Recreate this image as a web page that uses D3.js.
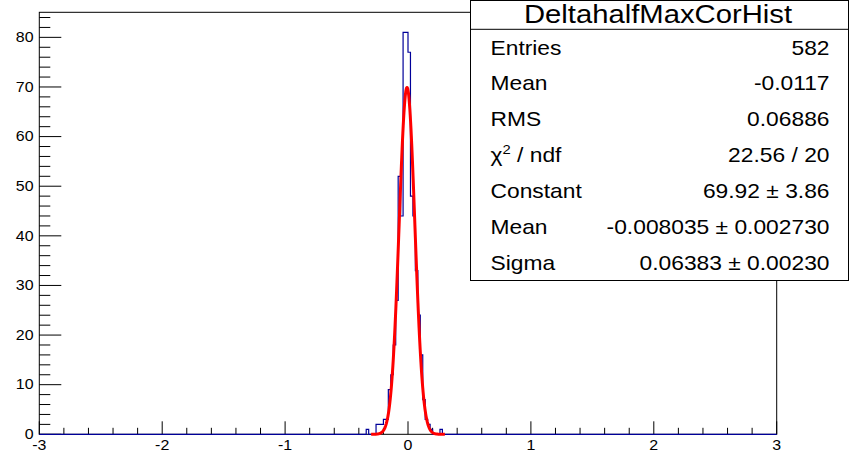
<!DOCTYPE html>
<html><head><meta charset="utf-8">
<script src="https://cdn.jsdelivr.net/npm/d3@7"></script>
<style>body{margin:0;background:#fff}svg{display:block}text{font-family:"Liberation Sans",Arial,Helvetica,sans-serif;fill:#000}</style>
</head><body>
<svg id="c" width="850" height="455"></svg>
<script>
// ---- data ----
const binWidth = 0.02;
const binLeft = [-0.34, -0.26, -0.24, -0.22, -0.20, -0.18, -0.16, -0.14, -0.12, -0.10, -0.08, -0.06, -0.04, -0.02, 0.00, 0.02, 0.04, 0.06, 0.08, 0.10, 0.12, 0.14, 0.16, 0.18, 0.26];
const counts  = [1, 2, 2, 2, 3, 3, 9, 12, 18, 27, 52, 44, 81, 81, 77, 48, 44, 33, 24, 16, 7, 3, 2, 1, 1];
const fitConstant = 69.92, fitMean = -0.008035, fitSigma = 0.06383;
const fitRange = [-0.3, 0.3];
const xTicks = [-3, -2, -1, 0, 1, 2, 3];
const yTicks = [0, 10, 20, 30, 40, 50, 60, 70, 80];
const statsTitle = "DeltahalfMaxCorHist";
const statsLabels = ["Entries", "Mean", "RMS", "CHI", "Constant", "Mean", "Sigma"];
const statsValues = ["582", "-0.0117", "0.06886", "22.56 / 20", "69.92 \u00b1 3.86", "-0.008035 \u00b1 0.002730", "0.06383 \u00b1 0.00230"];

// ---- layout ----
const svg = d3.select("#c");
const L = 39.3, R = 776.7, T = 12.3, B = 434.3;
const SX = 1.14;
const x = d3.scaleLinear().domain([-3, 3]).range([L, R]);
const y = d3.scaleLinear().domain([0, 85.05]).range([B, T]);

function txt(g, px, py, s, size, anchor) {
  return g.append("text").attr("transform", `translate(${px},${py}) scale(${SX},1)`)
    .attr("text-anchor", anchor || "start").style("font-size", size + "px").text(s);
}

// frame
svg.append("rect").attr("x", L).attr("y", T).attr("width", R - L).attr("height", B - T)
  .attr("fill", "none").attr("stroke", "#000").attr("stroke-width", 1);

// x axis ticks (inward)
const gx = svg.append("g");
const xMinor = d3.range(-3, 3.0001, 0.2);
xMinor.forEach(v => {
  const isMajor = Math.abs(v - Math.round(v)) < 1e-6;
  gx.append("line").attr("x1", x(v)).attr("x2", x(v)).attr("y1", B).attr("y2", B - (isMajor ? 13 : 6.5))
    .attr("stroke", "#000").attr("stroke-width", 1);
});
xTicks.forEach(v => txt(gx, x(v), 450, String(v), 14, "middle"));

// y axis ticks (inward)
const gy = svg.append("g");
d3.range(0, 85, 2).forEach(v => {
  const isMajor = v % 10 === 0;
  gy.append("line").attr("x1", L).attr("x2", L + (isMajor ? 22 : 11)).attr("y1", y(v)).attr("y2", y(v))
    .attr("stroke", "#000").attr("stroke-width", 1);
});
yTicks.forEach(v => txt(gy, 33.5, y(v) + 4.8, String(v), 14, "end"));

// histogram step outline
const pts = [[-3, 0]];
binLeft.forEach((b, i) => {
  pts.push([b, counts[i]]);
  const next = binLeft[i + 1];
  if (next === undefined || Math.abs(next - (b + binWidth)) > 1e-9) pts.push([b + binWidth, 0]);
});
pts.push([3, 0]);
svg.append("path").attr("d", d3.line().x(d => x(d[0])).y(d => y(d[1])).curve(d3.curveStepAfter)(pts))
  .attr("fill", "none").attr("stroke", "#000099").attr("stroke-width", 1.2);

// gaussian fit curve from fitted parameters
const fx = d3.range(0, 201).map(i => fitRange[0] + (fitRange[1] - fitRange[0]) * i / 200);
const gauss = v => fitConstant * Math.exp(-0.5 * Math.pow((v - fitMean) / fitSigma, 2));
svg.append("path").attr("d", d3.line().x(v => x(v)).y(v => y(gauss(v)))(fx))
  .attr("fill", "none").attr("stroke", "#ff0000").attr("stroke-width", 3).attr("stroke-linejoin", "round");

// stats box
const bx0 = 470.5, bx1 = 848.5, by0 = 0.5, by1 = 280.5, titleH = 29.3;
const gs = svg.append("g");
gs.append("rect").attr("x", bx0).attr("y", by0).attr("width", bx1 - bx0).attr("height", by1 - by0)
  .attr("fill", "#fff").attr("stroke", "#000").attr("stroke-width", 1);
gs.append("line").attr("x1", bx0).attr("x2", bx1).attr("y1", titleH).attr("y2", titleH)
  .attr("stroke", "#000").attr("stroke-width", 1);
txt(gs, 658, 22.7, statsTitle, 25, "middle").attr("transform", `translate(658,22.7) scale(1.17,1)`);
const rowH = (by1 - titleH) / 7;
statsLabels.forEach((lab, i) => {
  const by = titleH + rowH * (i + 0.5) + 7.3;
  if (lab === "CHI") {
    const t = txt(gs, 490.5, by, "", 20, "start");
    t.append("tspan").text("\u03c7");
    t.append("tspan").attr("dy", -8).style("font-size", "13px").text("2");
    t.append("tspan").attr("dy", 8).text(" / ndf");
  } else {
    txt(gs, 490.5, by, lab, 20, "start");
  }
  txt(gs, 829.5, by, statsValues[i], 20, "end");
});
</script>
</body></html>
